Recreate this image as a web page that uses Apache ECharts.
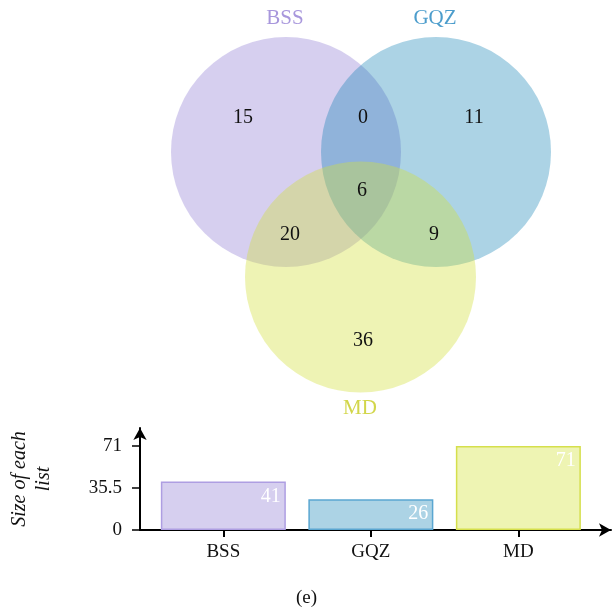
<!DOCTYPE html>
<html>
<head>
<meta charset="utf-8">
<script src="https://cdn.jsdelivr.net/npm/echarts@6/dist/echarts.min.js"></script>
<style>
  html, body { margin: 0; padding: 0; background: #fff; }
  #chart { width: 613px; height: 610px; }
</style>
</head>
<body>
<div id="chart"></div>
<script>
// Sets and their sizes
const setNames = ['BSS', 'GQZ', 'MD'];
const setSizes = [41, 26, 71];

// Venn region counts
const regionNames = ['BSS only', 'BSS∩GQZ', 'GQZ only', 'BSS∩GQZ∩MD', 'BSS∩MD', 'GQZ∩MD', 'MD only'];
const regionCounts = [15, 0, 11, 6, 20, 9, 36];

// Bar axis ticks
const yTicks = [0, 35.5, 71];

// ---- layout (pixel space of the diagram) ----
const circleLayout = [
  { cx: 286, cy: 152, r: 115 },
  { cx: 436, cy: 152, r: 115 },
  { cx: 360.5, cy: 277, r: 115.5 }
];
const setLabelPos = [[285, 18], [435, 18], [360, 408]];
const regionLabelPos = [[243, 118], [363, 118], [474, 118], [362, 191], [290, 235], [434, 235], [363, 341]];

const circleFill = ['rgba(173,159,223,0.5)', 'rgba(3,121,176,0.33)', 'rgba(210,223,58,0.38)'];
const setLabelColor = ['#a897dc', '#4c9dcc', '#d2d64a'];
const barFill = ['#d6cfef', '#acd3e5', '#eef4b3'];
const barBorder = ['#ae9ee2', '#5aa6d1', '#d5df4c'];

const FONT = '"Liberation Serif", "DejaVu Serif", serif';
const INK = '#111111';

const series = [];

// Venn circles
circleLayout.forEach((c, i) => {
  series.push({
    type: 'scatter',
    xAxisIndex: 1, yAxisIndex: 1,
    silent: true,
    symbol: 'circle',
    symbolSize: c.r * 2,
    itemStyle: { color: circleFill[i], borderWidth: 0, opacity: 1 },
    data: [[c.cx, c.cy]],
    z: 2 + i
  });
});

// Region counts
series.push({
  type: 'scatter',
  xAxisIndex: 1, yAxisIndex: 1,
  silent: true,
  symbolSize: 1,
  itemStyle: { color: 'rgba(0,0,0,0)', opacity: 1 },
  label: {
    show: true, position: 'inside',
    formatter: p => String(p.value[2]),
    fontFamily: FONT, fontSize: 20, color: INK
  },
  data: regionCounts.map((v, i) => ({ name: regionNames[i], value: [regionLabelPos[i][0], regionLabelPos[i][1], v] })),
  z: 10
});

// Set names around the diagram
series.push({
  type: 'scatter',
  xAxisIndex: 1, yAxisIndex: 1,
  silent: true,
  symbolSize: 1,
  itemStyle: { color: 'rgba(0,0,0,0)', opacity: 1 },
  label: {
    show: true, position: 'inside',
    formatter: p => p.name,
    fontFamily: FONT, fontSize: 21
  },
  data: setNames.map((n, i) => ({
    name: n,
    value: setLabelPos[i],
    label: { color: setLabelColor[i] }
  })),
  z: 10
});

// Bar chart of set sizes
series.push({
  type: 'bar',
  xAxisIndex: 0, yAxisIndex: 0,
  barWidth: 125,
  silent: true,
  data: setSizes.map((v, i) => ({
    value: [i, v],
    itemStyle: { color: barFill[i], borderColor: barBorder[i], borderWidth: 1.5 }
  })),
  label: {
    show: true,
    position: 'insideTopRight',
    distance: 5,
    formatter: p => String(p.value[1]),
    fontFamily: FONT, fontSize: 20, color: '#ffffff'
  }
});

const chart = echarts.init(document.getElementById('chart'), null, { renderer: 'canvas' });
chart.setOption({
  animation: false,
  backgroundColor: '#ffffff',
  title: {
    text: '(e)',
    left: 'center',
    top: 584,
    textStyle: { fontFamily: FONT, fontSize: 19, fontWeight: 'normal', color: INK }
  },
  grid: [
    { left: 137, right: 2, top: 428, bottom: 80 },
    { left: 0, top: 0, width: 613, height: 610 }
  ],
  xAxis: [
    {
      gridIndex: 0,
      type: 'value',
      min: -0.565,
      max: 2.628,
      splitLine: { show: false },
      axisLine: { show: true, onZero: false, lineStyle: { color: '#000', width: 2 }, symbol: ['none', 'arrow'], symbolSize: [10, 12] },
      axisTick: { show: true, customValues: [0, 1, 2], length: 7, lineStyle: { color: '#000', width: 2 } },
      axisLabel: {
        customValues: [0, 1, 2],
        formatter: v => setNames[Math.round(v)],
        margin: 13,
        fontFamily: FONT, fontSize: 19, color: INK
      }
    },
    { gridIndex: 1, type: 'value', min: 0, max: 613, show: false }
  ],
  yAxis: [
    {
      gridIndex: 0,
      type: 'value',
      min: 0,
      max: 86.2,
      splitLine: { show: false },
      axisLine: { show: true, onZero: false, lineStyle: { color: '#000', width: 2 }, symbol: ['none', 'arrow'], symbolSize: [10, 12] },
      axisTick: { show: true, customValues: yTicks, length: 8, lineStyle: { color: '#000', width: 1.5 } },
      axisLabel: {
        customValues: yTicks,
        margin: 18,
        fontFamily: FONT, fontSize: 19, color: INK
      },
      name: 'Size of each\nlist',
      nameLocation: 'middle',
      nameRotate: 90,
      nameGap: 84,
      nameTextStyle: { fontFamily: FONT, fontSize: 20, fontStyle: 'italic', color: INK, lineHeight: 24 }
    },
    { gridIndex: 1, type: 'value', min: 0, max: 610, inverse: true, show: false }
  ],
  series: series
});
</script>
</body>
</html>
